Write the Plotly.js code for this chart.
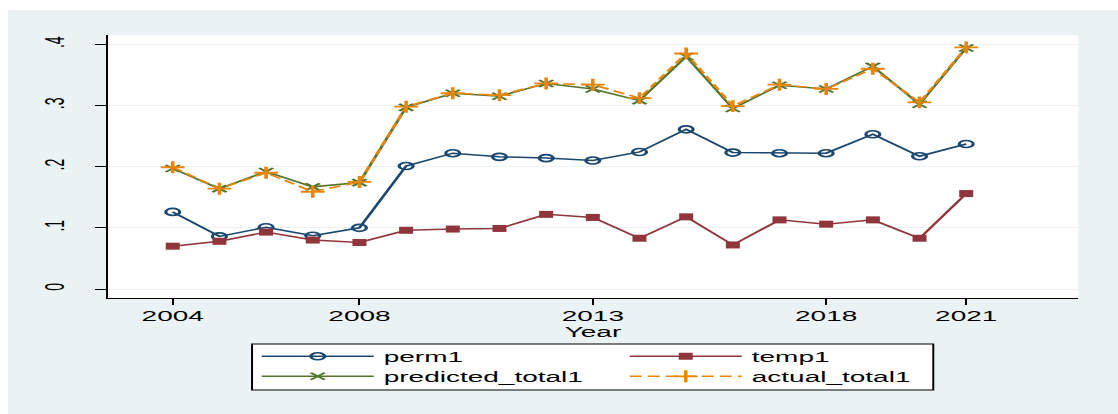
<!DOCTYPE html>
<html>
<head>
<meta charset="utf-8">
<script src="https://cdn.plot.ly/plotly-3.0.1.min.js"></script>
<style>
  html, body { margin: 0; padding: 0; background: #ffffff; overflow: hidden; width: 1118px; height: 414px; }
  #wrap { position: absolute; left: 0; top: 0; width: 559px; height: 414px; transform: scaleX(2); transform-origin: 0 0; }
  #chart { position: absolute; left: 3.5px; top: 10px; width: 555px; height: 404px; }
</style>
</head>
<body>
<div id="wrap"><div id="chart"></div></div>
<script>
// ---- data ----
const years = [2004, 2005, 2006, 2007, 2008, 2009, 2010, 2011, 2012, 2013, 2014, 2015, 2016, 2017, 2018, 2019, 2020, 2021];
const perm1 = [0.126, 0.086, 0.101, 0.087, 0.100, 0.201, 0.222, 0.216, 0.214, 0.210, 0.224, 0.261, 0.223, 0.222, 0.222, 0.253, 0.217, 0.237];
const temp1 = [0.070, 0.078, 0.093, 0.080, 0.076, 0.096, 0.098, 0.099, 0.122, 0.117, 0.083, 0.118, 0.072, 0.113, 0.106, 0.113, 0.083, 0.156];
const predicted_total1 = [0.197, 0.164, 0.192, 0.167, 0.174, 0.297, 0.320, 0.315, 0.336, 0.327, 0.308, 0.380, 0.295, 0.333, 0.327, 0.364, 0.302, 0.394];
const actual_total1 = [0.199, 0.164, 0.190, 0.159, 0.175, 0.298, 0.320, 0.317, 0.336, 0.334, 0.312, 0.385, 0.299, 0.334, 0.327, 0.360, 0.305, 0.395];

const xTickVals = [2004, 2008, 2013, 2018, 2021];
const xTickText = ['2004', '2008', '2013', '2018', '2021'];
const yTickVals = [0, 0.1, 0.2, 0.3, 0.4];
const yTickText = ['0', '.1', '.2', '.3', '.4'];
const xTitle = 'Year';

const FONT = 'Liberation Sans, Arial, Helvetica, sans-serif';
const NAVY = '#1A476F', MAROON = '#90353B', GREEN = '#55752F', ORANGE = '#E8850A';

const traces = [
  { x: years, y: perm1, name: 'perm1', type: 'scatter', mode: 'lines+markers', legend: 'legend',
    line: { color: NAVY, width: 1.5 },
    marker: { symbol: 'circle-open', size: 7, color: NAVY, line: { width: 1.6, color: NAVY } } },
  { x: years, y: temp1, name: 'temp1', type: 'scatter', mode: 'lines+markers', legend: 'legend',
    line: { color: MAROON, width: 1.5 },
    marker: { symbol: 'square', size: 7, color: MAROON } },
  { x: years, y: predicted_total1, name: 'predicted_total1', type: 'scatter', mode: 'lines+markers', legend: 'legend2',
    line: { color: GREEN, width: 1.5 },
    marker: { symbol: 'x-thin-open', size: 7, color: GREEN, line: { width: 1.6, color: GREEN } } },
  { x: years, y: actual_total1, name: 'actual_total1', type: 'scatter', mode: 'lines+markers', legend: 'legend2',
    line: { color: ORANGE, width: 1.5, dash: '6px,3px' },
    marker: { symbol: 'cross-thin-open', size: 8.5, color: ORANGE, line: { width: 1.8, color: ORANGE } } }
];

const legendCommon = {
  orientation: 'h', x: 0.1482, xanchor: 'left', yanchor: 'middle',
  bgcolor: 'rgba(0,0,0,0)', borderwidth: 0,
  font: { family: FONT, size: 14, color: '#000000' },
  itemwidth: 56, entrywidth: 113, traceorder: 'normal'
};

const layout = {
  width: 555, height: 404,
  margin: { l: 50, r: 20, t: 25, b: 116 },
  paper_bgcolor: '#EAF2F3',
  plot_bgcolor: '#FFFFFF',
  font: { family: FONT, size: 14, color: '#000000' },
  showlegend: true,
  legend: Object.assign({}, legendCommon, { y: -0.2232 }),
  legend2: Object.assign({}, legendCommon, { y: -0.2992 }),
  shapes: [{
    type: 'rect', xref: 'paper', yref: 'paper',
    x0: 0.1485, x1: 0.8508, y0: -0.3498, y1: -0.1749,
    fillcolor: '#FFFFFF', line: { color: '#000000', width: 1 }, layer: 'above'
  }],
  xaxis: {
    range: [2002.613, 2023.395], tickmode: 'array', tickvals: xTickVals, ticktext: xTickText,
    showgrid: false, zeroline: false, showline: true, linecolor: '#000000', linewidth: 1,
    ticks: 'outside', ticklen: 5.5, tickwidth: 1, tickcolor: '#000000',
    tickfont: { family: FONT, size: 14, color: '#000000' },
    title: { text: xTitle, font: { family: FONT, size: 14, color: '#000000' }, standoff: 0 },
    automargin: true
  },
  yaxis: {
    range: [-0.0147, 0.4152], tickmode: 'array', tickvals: yTickVals, ticktext: yTickText,
    showgrid: true, gridcolor: '#EAF2F3', gridwidth: 1, zeroline: false,
    showline: true, linecolor: '#000000', linewidth: 1,
    ticks: 'outside', ticklen: 5.5, tickwidth: 1, tickcolor: '#000000', tickangle: -90,
    ticklabelstandoff: 10,
    tickfont: { family: FONT, size: 14, color: '#000000' }
  }
};

Plotly.newPlot('chart', traces, layout, { displayModeBar: false, staticPlot: true });
</script>
</body>
</html>
